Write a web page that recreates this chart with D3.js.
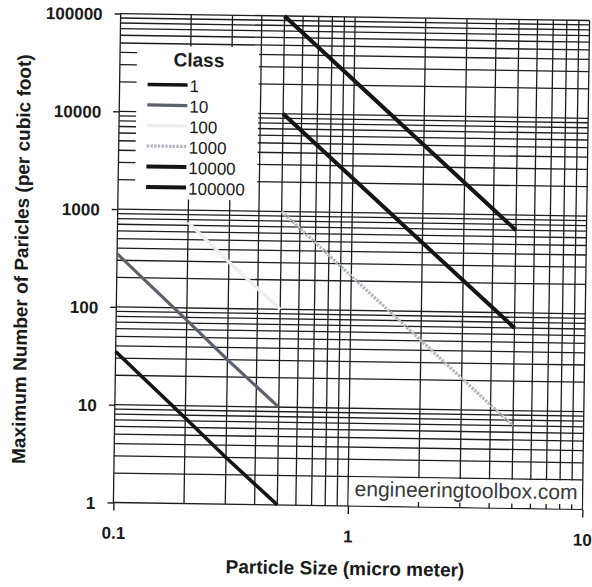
<!DOCTYPE html>
<html>
<head>
<meta charset="utf-8">
<script src="https://cdn.jsdelivr.net/npm/d3@7"></script>
<style>
  body { margin: 0; background: #fff; }
  svg { display: block; }
</style>
</head>
<body>
<svg id="chart" width="592" height="587"></svg>
<script>
// FS 209E cleanroom class limits: particles per cubic foot at each particle size (µm)
const particleSizes = [0.1, 0.2, 0.3, 0.5, 5];
const classNames = ["1", "10", "100", "1000", "10000", "100000"];
const class1 = [35, 7.5, 3, 1, null];
const class10 = [350, 75, 30, 10, null];
const class100 = [null, 750, 300, 100, null];
const class1000 = [null, null, null, 1000, 7];
const class10000 = [null, null, null, 10000, 70];
const class100000 = [null, null, null, 100000, 700];
const xTickValues = [0.1, 1, 10];
const yTickValues = [1, 10, 100, 1000, 10000, 100000];

const seriesValues = [class1, class10, class100, class1000, class10000, class100000];
const seriesStyles = [
  { color: "#141414", width: 3.6 },
  { color: "#5b616c", width: 3.2 },
  { color: "#eeeeee", width: 3.4 },
  { color: "#b3b7bf", width: 3.2, dash: "2.5,1.2" },
  { color: "#141414", width: 4 },
  { color: "#141414", width: 4 }
];

const plot = { left: 117, right: 586, top: 17, bottom: 506 };
const FONT = "'Liberation Sans', Arial, sans-serif";

const svg = d3.select("#chart");
// the whole sheet sits slightly tilted on the page
const root = svg.append("g").attr("transform", "rotate(0.85,352,262)");

const x = d3.scaleLog().domain([0.1, 10]).range([plot.left, plot.right]);
const y = d3.scaleLog().domain([1, 100000]).range([plot.bottom, plot.top]);

// full log grid
const grid = root.append("g").attr("stroke", "#1c1c1c").attr("stroke-width", 1.3);
grid.selectAll("line.v").data(x.ticks()).join("line")
  .attr("class", "v")
  .attr("x1", d => x(d)).attr("x2", d => x(d))
  .attr("y1", plot.top).attr("y2", plot.bottom);
grid.selectAll("line.h").data(y.ticks()).join("line")
  .attr("class", "h")
  .attr("x1", plot.left).attr("x2", plot.right)
  .attr("y1", d => y(d)).attr("y2", d => y(d));

// white panels for the legend and the site credit
const legendBox = { x: 134, y: 49, w: 122, h: 153 };
root.append("rect")
  .attr("x", legendBox.x).attr("y", legendBox.y)
  .attr("width", legendBox.w).attr("height", legendBox.h)
  .attr("fill", "#fff");
const creditBox = { x: x(1) + 0.8, y: y(2) + 0.8 };
root.append("rect")
  .attr("x", creditBox.x).attr("y", creditBox.y)
  .attr("width", plot.right - creditBox.x - 0.7)
  .attr("height", plot.bottom - creditBox.y - 0.7)
  .attr("fill", "#fff");

// small inward ticks along the bottom edge under the credit panel
root.append("g").attr("stroke", "#1c1c1c").attr("stroke-width", 1.3)
  .selectAll("line").data(x.ticks().filter(d => d > 1 && d < 10)).join("line")
  .attr("x1", d => x(d)).attr("x2", d => x(d))
  .attr("y1", plot.bottom).attr("y2", plot.bottom - 5);

// axes: major ticks pointing outward
const yAxis = root.append("g")
  .attr("transform", `translate(${plot.left},0)`)
  .call(d3.axisLeft(y).tickValues(yTickValues).tickFormat(d3.format("d")).tickSize(6).tickSizeOuter(0).tickPadding(12));
const xAxis = root.append("g")
  .attr("transform", `translate(0,${plot.bottom})`)
  .call(d3.axisBottom(x).tickValues(xTickValues).tickFormat(d => String(d)).tickSize(8).tickSizeOuter(0).tickPadding(16));
[yAxis, xAxis].forEach(a => {
  a.select(".domain").remove();
  a.selectAll(".tick line").attr("stroke", "#1c1c1c").attr("stroke-width", 1.4);
  a.selectAll(".tick text")
    .attr("fill", "#1a1a1a")
    .attr("font-family", FONT)
    .attr("font-weight", "bold")
    .attr("font-size", 17);
});
yAxis.selectAll(".tick text").attr("dy", "0.36em");
xAxis.selectAll(".tick text").attr("dy", "0.72em");

// class limit lines
const line = d3.line()
  .defined(d => d[1] != null)
  .x(d => x(d[0]))
  .y(d => y(d[1]));
root.append("g").selectAll("path").data(seriesValues).join("path")
  .attr("d", vals => line(vals.map((v, i) => [particleSizes[i], v])))
  .attr("fill", "none")
  .attr("stroke", (d, i) => seriesStyles[i].color)
  .attr("stroke-width", (d, i) => seriesStyles[i].width)
  .attr("stroke-dasharray", (d, i) => seriesStyles[i].dash || null);

// legend
const legend = root.append("g");
legend.append("text")
  .attr("x", 196).attr("y", 69)
  .attr("text-anchor", "middle")
  .attr("font-family", FONT).attr("font-weight", "bold").attr("font-size", 19)
  .attr("fill", "#1a1a1a")
  .text("Class");
const entry = legend.selectAll("g.entry").data(classNames).join("g")
  .attr("class", "entry")
  .attr("transform", (d, i) => `translate(0,${87.5 + i * 20.5})`);
entry.append("line")
  .attr("x1", 145).attr("x2", 185).attr("y1", 0).attr("y2", 0)
  .attr("stroke", (d, i) => seriesStyles[i].color)
  .attr("stroke-width", (d, i) => seriesStyles[i].width)
  .attr("stroke-dasharray", (d, i) => seriesStyles[i].dash || null);
entry.append("text")
  .attr("x", 187).attr("y", 7)
  .attr("font-family", FONT).attr("font-size", 17)
  .attr("fill", "#1a1a1a")
  .text(d => d);

// credit
root.append("text")
  .attr("x", 358).attr("y", 496)
  .attr("font-family", FONT).attr("font-size", 21)
  .attr("fill", "#3a3a3a")
  .text("engineeringtoolbox.com");

// axis titles
root.append("text")
  .attr("x", (plot.left + plot.right) / 2 - 2).attr("y", 575)
  .attr("text-anchor", "middle")
  .attr("font-family", FONT).attr("font-weight", "bold").attr("font-size", 19)
  .attr("fill", "#1a1a1a")
  .text("Particle Size (micro meter)");
root.append("text")
  .attr("transform", "translate(28,264) rotate(-90)")
  .attr("text-anchor", "middle")
  .attr("font-family", FONT).attr("font-weight", "bold").attr("font-size", 19)
  .attr("fill", "#1a1a1a")
  .text("Maximum Number of Paricles (per cubic foot)");
</script>
</body>
</html>
